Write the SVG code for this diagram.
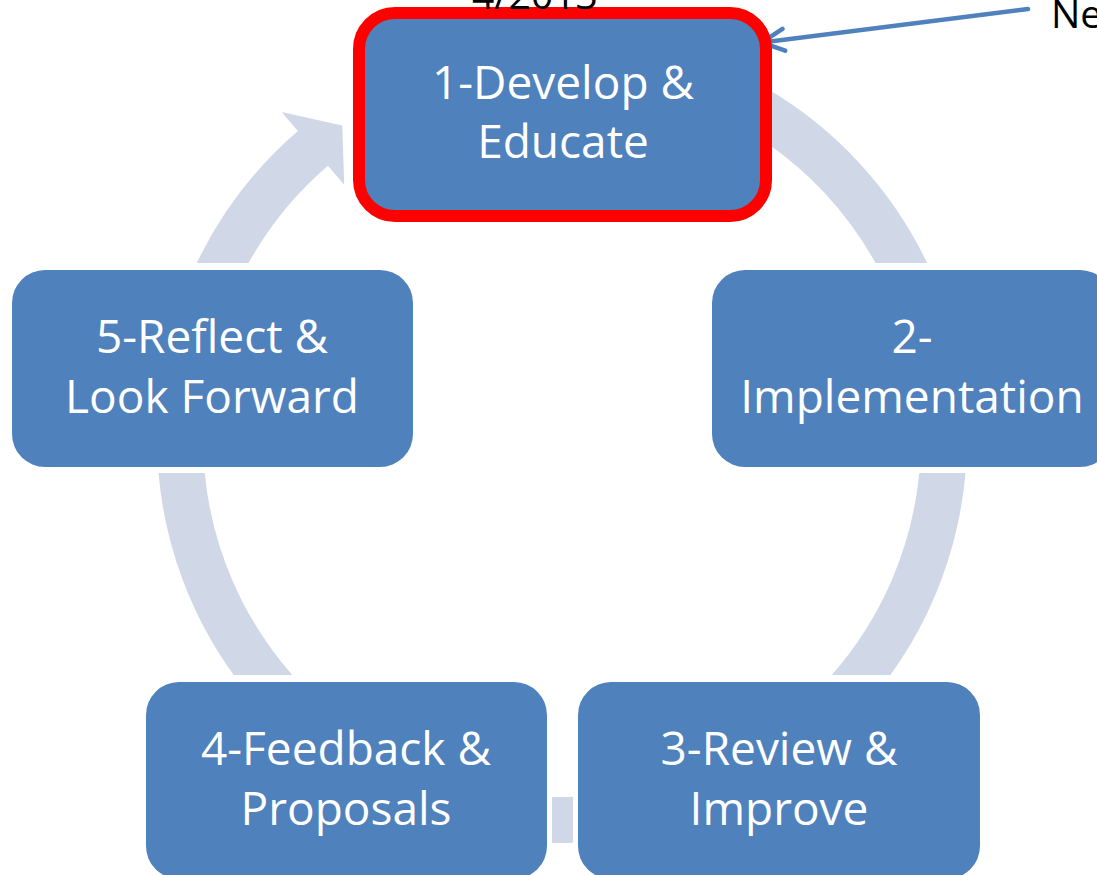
<svg xmlns="http://www.w3.org/2000/svg" width="1097" height="875" viewBox="0 0 1097 875">
  <defs>
    <style>
      .ring { fill: #D0D8E8; stroke: none; }
      .node { fill: #4F81BD; stroke: none; }
      .hl { fill: #4F81BD; stroke: #FF0000; stroke-width: 12; }
      .lbl { font-family: "Open Sans", "Noto Sans", "Liberation Sans", sans-serif; font-size: 46px; fill: #FFFFFF; text-anchor: middle; }
      .note { font-family: "Open Sans", "Noto Sans", "Liberation Sans", sans-serif; font-size: 39px; fill: #000000; }
      .callout { fill: none; stroke: #4F81BD; stroke-width: 4.5; stroke-linecap: round; }
    </style>
    <marker id="chev" markerUnits="userSpaceOnUse" viewBox="-28 -16 32 32" refX="0" refY="0" markerWidth="32" markerHeight="32" orient="auto">
      <path d="M -22 -11 L 0 0 L -22 11" fill="none" stroke="#4F81BD" stroke-width="4.5" stroke-linecap="round" stroke-linejoin="round"/>
    </marker>
  </defs>

  <rect x="0" y="0" width="1097" height="875" fill="#FFFFFF"/>

  <g id="connectors">
    <!-- 5 -> 1 with arrowhead -->
    <path class="ring" d="M 196.8 263 A 405 405 0 0 1 297.9 131 L 281.6 112 L 342.3 125.5 L 344.2 184.8 L 327.9 165.8 A 359 359 0 0 0 248.5 263 Z"/>
    <!-- 1 -> 2 -->
    <path class="ring" d="M 766 88.1 A 405 405 0 0 1 927.2 263 L 875.5 263 A 359 359 0 0 0 766 142.6 Z"/>
    <!-- 2 -> 3 -->
    <path class="ring" d="M 965.5 473 A 405 405 0 0 1 890.4 675 L 831.7 675 A 359 359 0 0 0 919.3 473 Z"/>
    <!-- 3 -> 4 -->
    <path class="ring" d="M 573 842.8 A 405 405 0 0 1 552 842.9 L 552 796.9 A 359 359 0 0 0 573 796.8 Z"/>
    <!-- 4 -> 5 -->
    <path class="ring" d="M 233.6 675 A 405 405 0 0 1 158.5 473 L 204.7 473 A 359 359 0 0 0 292.3 675 Z"/>
    <!-- callout arrow -->
    <line class="callout" x1="1028" y1="9" x2="762" y2="42.5" marker-end="url(#chev)"/>
  </g>

  <g id="node1">
    <rect class="hl" x="359" y="13" width="407" height="203" rx="36" ry="36"/>
    <text class="lbl" x="563" y="99">1-Develop &amp;</text>
    <text class="lbl" x="563" y="158">Educate</text>
  </g>

  <g id="node2">
    <rect class="node" x="712" y="270" width="401" height="197" rx="33" ry="33"/>
    <text class="lbl" x="912" y="353">2-</text>
    <text class="lbl" x="912" y="413">Implementation</text>
  </g>

  <g id="node3">
    <rect class="node" x="578" y="682" width="402" height="197" rx="33" ry="33"/>
    <text class="lbl" x="779" y="765">3-Review &amp;</text>
    <text class="lbl" x="779" y="825">Improve</text>
  </g>

  <g id="node4">
    <rect class="node" x="146" y="682" width="401" height="197" rx="33" ry="33"/>
    <text class="lbl" x="346" y="765">4-Feedback &amp;</text>
    <text class="lbl" x="346" y="825">Proposals</text>
  </g>

  <g id="node5">
    <rect class="node" x="12" y="270" width="401" height="197" rx="33" ry="33"/>
    <text class="lbl" x="212" y="353">5-Reflect &amp;</text>
    <text class="lbl" x="212" y="413">Look Forward</text>
  </g>

  <g id="notes">
    <text class="note" x="472" y="8.5">4/2013</text>
    <text class="note" x="1051" y="28">Ne</text>
  </g>
</svg>
